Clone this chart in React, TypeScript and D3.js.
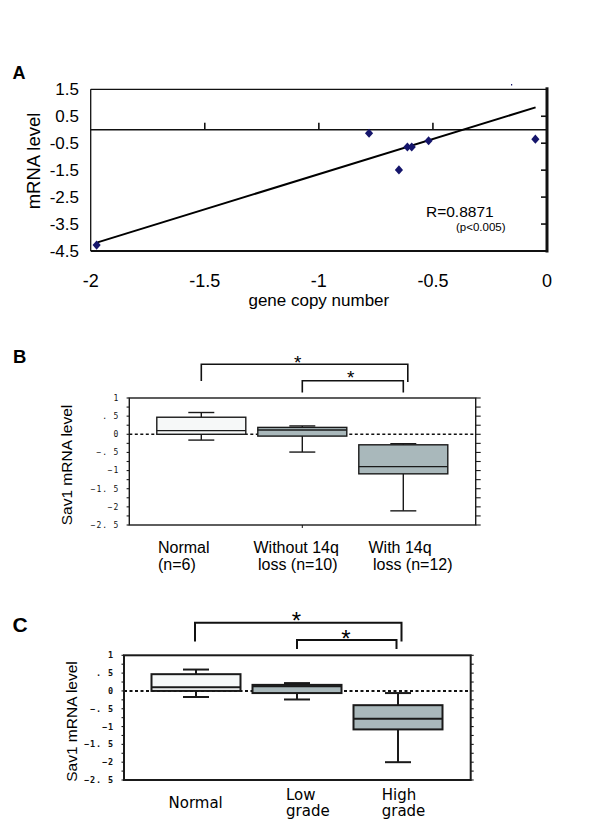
import React from "react";
import * as d3 from "d3";

// ---------- Panel A data ----------
const aCopyNumber = [-1.974, -0.78, -0.649, -0.612, -0.593, -0.519, -0.051];
const aMrna = [-4.28, -0.13, -1.49, -0.64, -0.64, -0.41, -0.35];
const aFitX = [-1.97, -0.05];
const aFitY = [-4.18, 0.83];
const aYTicks = [1.5, 0.5, -0.5, -1.5, -2.5, -3.5, -4.5];
const aXTicks = [-2, -1.5, -1, -0.5, 0];
const aZeroTicks = [-1.5, -1, -0.5];

// ---------- Panel B data ----------
const bGroups = ["Normal", "Without 14q loss", "With 14q loss"];
const bLabels = [["Normal", "(n=6)"], ["Without 14q", " loss (n=10)"], ["With 14q", " loss (n=12)"]];
const bQ1 = [0.0, -0.05, -1.09];
const bQ3 = [0.47, 0.19, -0.29];
const bMed = [0.1, 0.12, -0.89];
const bMin = [-0.16, -0.49, -2.11];
const bMax = [0.6, 0.23, -0.26];

// ---------- Panel C data ----------
const cGroups = ["Normal", "Low grade", "High grade"];
const cLabels = [["Normal"], ["Low", "grade"], ["High", "grade"]];
const cQ1 = [0.0, -0.06, -1.08];
const cQ3 = [0.47, 0.17, -0.4];
const cMed = [0.1, 0.13, -0.78];
const cMin = [-0.17, -0.24, -2.0];
const cMax = [0.6, 0.22, -0.06];

const boxTickLabels = [1, 0.5, 0, -0.5, -1, -1.5, -2, -2.5];
const boxTickText = ["1", ". 5", "0", "\u2212. 5", "\u22121", "\u22121. 5", "\u22122", "\u22122. 5"];

const SANS = "'Liberation Sans', Arial, sans-serif";
const MONO = "'DejaVu Sans Mono', monospace";
const GRAY = "#a9b8bb";

const diamond = {
  draw(ctx: any, size: number) {
    const w = Math.sqrt(size) * 0.55;
    const h = Math.sqrt(size) * 0.62;
    ctx.moveTo(0, -h);
    ctx.lineTo(w, 0);
    ctx.lineTo(0, h);
    ctx.lineTo(-w, 0);
    ctx.closePath();
  },
};

function PanelA() {
  const x = d3.scaleLinear().domain([-2, 0]).range([90.7, 547]);
  const y = d3.scaleLinear().domain([1.5, -4.5]).range([89.3, 251]);
  const sym = d3.symbol().type(diamond as any).size(55)();
  const line = d3.line<number>().x((d) => x(aFitX[d])).y((d) => y(aFitY[d]));
  const l = x.range()[0], r = x.range()[1], t = y.range()[0], b = y.range()[1];
  return (
    <g fontFamily={SANS}>
      <text x={12.5} y={78.5} fontSize={18} fontWeight="bold">A</text>
      <line x1={l} x2={r} y1={t} y2={t} stroke="#111" strokeWidth={1.3} />
      <line x1={l} x2={l} y1={t} y2={b} stroke="#111" strokeWidth={1.3} />
      <line x1={l} x2={r} y1={b} y2={b} stroke="#111" strokeWidth={1.8} />
      <line x1={r} x2={r} y1={t - 2} y2={b + 1.5} stroke="#111" strokeWidth={3} />
      <line x1={l} x2={r} y1={y(0)} y2={y(0)} stroke="#111" strokeWidth={1.6} />
      {aZeroTicks.map((v) => (
        <line key={v} x1={x(v)} x2={x(v)} y1={y(0)} y2={y(0) - 7} stroke="#111" strokeWidth={1.6} />
      ))}
      {aYTicks.slice(1, -1).map((v) => (
        <line key={v} x1={r} x2={r - 6} y1={y(v)} y2={y(v)} stroke="#111" strokeWidth={1.6} />
      ))}
      {aYTicks.map((v) => (
        <text key={v} x={79} y={y(v)} dy="0.36em" textAnchor="end" fontSize={17}>
          {String(v)}
        </text>
      ))}
      {aXTicks.map((v) => (
        <text key={v} x={x(v)} y={281} dy="0.36em" textAnchor="middle" fontSize={18}>
          {String(v)}
        </text>
      ))}
      <text x={(l + r) / 2} y={306} textAnchor="middle" fontSize={17}>gene copy number</text>
      <text transform={`translate(33,161) rotate(-90)`} textAnchor="middle" dy="0.36em" fontSize={18.5}>
        mRNA level
      </text>
      <path d={line([0, 1]) || ""} fill="none" stroke="#000" strokeWidth={2} />
      {aCopyNumber.map((v, i) => (
        <path key={i} d={sym || ""} transform={`translate(${x(v)},${y(aMrna[i])})`} fill="#15156b" />
      ))}
      <rect x={511} y={84} width={1.2} height={1.5} fill="#15156b" />
      <text x={426} y={216.5} fontSize={15.5}>R=0.8871</text>
      <text x={456} y={231} fontSize={11.5}>(p&lt;0.005)</text>
    </g>
  );
}

type BoxProps = {
  top: number;
  bottom: number;
  left: number;
  right: number;
  groups: string[];
  q1: number[];
  q3: number[];
  med: number[];
  mn: number[];
  mx: number[];
  sw: number;
  bold: boolean;
  leftTick: number;
  rightTick: number;
};

function BoxPlot(p: BoxProps) {
  const x = d3.scalePoint<string>().domain(p.groups).range([p.left + 72, p.left + 274]);
  const y = d3.scaleLinear().domain([1, -2.5]).range([p.top, p.bottom]);
  const minor = d3.range(1, -2.51, -0.25);
  const stroke = "#1a1a1a";
  const hw = 44.5;
  const cw = 13;
  return (
    <g>
      {minor.map((v) => (
        <g key={v}>
          <line x1={p.left - p.leftTick} x2={p.left} y1={y(v)} y2={y(v)} stroke={stroke} strokeWidth={1.1} />
          <line x1={p.right} x2={p.right + p.rightTick} y1={y(v)} y2={y(v)} stroke={stroke} strokeWidth={1.1} />
        </g>
      ))}
      {boxTickLabels.map((v, i) => (
        <text
          key={v}
          x={p.left - 10}
          y={y(v)}
          dy="0.35em"
          textAnchor="end"
          fontFamily={MONO}
          fontSize={p.bold ? 8.5 : 8}
          fontWeight={p.bold ? "bold" : "normal"}
          letterSpacing={0.9}
          fill="#111"
        >
          {boxTickText[i]}
        </text>
      ))}
      <line
        x1={p.left}
        x2={p.right}
        y1={y(0)}
        y2={y(0)}
        stroke="#111"
        strokeWidth={p.sw}
        strokeDasharray="3,2.5"
      />
      {p.groups.map((g, i) => {
        const cx = x(g) as number;
        return (
          <g key={g} stroke={stroke} strokeWidth={p.sw}>
            <line x1={cx} x2={cx} y1={y(p.q3[i])} y2={y(p.mx[i])} />
            <line x1={cx} x2={cx} y1={y(p.q1[i])} y2={y(p.mn[i])} />
            <line x1={cx - cw} x2={cx + cw} y1={y(p.mx[i])} y2={y(p.mx[i])} />
            <line x1={cx - cw} x2={cx + cw} y1={y(p.mn[i])} y2={y(p.mn[i])} />
            <rect
              x={cx - hw}
              width={2 * hw}
              y={y(p.q3[i])}
              height={y(p.q1[i]) - y(p.q3[i])}
              fill={i === 0 ? "#f6f8f8" : GRAY}
            />
            <line x1={cx - hw} x2={cx + hw} y1={y(p.med[i])} y2={y(p.med[i])} />
          </g>
        );
      })}
      <rect
        x={p.left}
        y={p.top}
        width={p.right - p.left}
        height={p.bottom - p.top}
        fill="none"
        stroke={stroke}
        strokeWidth={p.sw}
      />
    </g>
  );
}

function Bracket({ x1, x2, yTop, y1b, y2b, sw }: any) {
  return (
    <path d={`M${x1},${y1b}V${yTop}H${x2}V${y2b}`} fill="none" stroke="#111" strokeWidth={sw} />
  );
}

function PanelB() {
  const left = 129.3, right = 475.7;
  const x = d3.scalePoint<string>().domain(bGroups).range([left + 72, left + 274]);
  const c0 = x(bGroups[0]) as number, c1 = x(bGroups[1]) as number, c2 = x(bGroups[2]) as number;
  const starts = [158, 253.5, 368.5];
  return (
    <g fontFamily={SANS}>
      <text x={13} y={362.5} fontSize={18.5} fontWeight="bold">B</text>
      <Bracket x1={c0} x2={c2 + 4.5} yTop={364.3} y1b={381} y2b={382} sw={1.6} />
      <Bracket x1={c1} x2={c2} yTop={380.7} y1b={392.5} y2b={392.5} sw={1.6} />
      <text x={(c0 + c2) / 2 - 4.5} y={368.5} textAnchor="middle" fontSize={19}>*</text>
      <text x={(c1 + c2) / 2 - 2} y={383.5} textAnchor="middle" fontSize={19}>*</text>
      <BoxPlot
        top={398}
        bottom={525}
        left={left}
        right={right}
        groups={bGroups}
        q1={bQ1}
        q3={bQ3}
        med={bMed}
        mn={bMin}
        mx={bMax}
        sw={1.4}
        bold={false}
        leftTick={2.7}
        rightTick={5}
      />
      <line x1={c1} x2={c1} y1={525} y2={528} stroke="#111" strokeWidth={1} />
      <text transform="translate(66,465) rotate(-90)" textAnchor="middle" dy="0.36em" fontSize={15.5}>
        Sav1 mRNA level
      </text>
      {bLabels.map((lines, i) => (
        <text key={i} fontSize={16} style={{ whiteSpace: "pre" }}>
          {lines.map((s, j) => (
            <tspan key={j} x={starts[i]} y={552.5 + j * 17}>
              {s}
            </tspan>
          ))}
        </text>
      ))}
    </g>
  );
}

function PanelC() {
  const left = 124, right = 470.7;
  const x = d3.scalePoint<string>().domain(cGroups).range([left + 72, left + 274]);
  const c0 = x(cGroups[0]) as number, c1 = x(cGroups[1]) as number, c2 = x(cGroups[2]) as number;
  const starts = [168.5, 286, 381.7];
  return (
    <g fontFamily={SANS}>
      <text x={12.5} y={631.5} fontSize={21} fontWeight="bold">C</text>
      <Bracket x1={c0 - 1} x2={c2 + 3.5} yTop={622.7} y1b={641.5} y2b={641.5} sw={2} />
      <Bracket x1={c1} x2={c2 - 1.5} yTop={640} y1b={649} y2b={649} sw={2} />
      <text x={(c0 + c2) / 2 - 0.5} y={628.5} textAnchor="middle" fontSize={24}>*</text>
      <text x={(c1 + c2) / 2 - 1.5} y={646.5} textAnchor="middle" fontSize={24}>*</text>
      <BoxPlot
        top={655.3}
        bottom={780}
        left={left}
        right={right}
        groups={cGroups}
        q1={cQ1}
        q3={cQ3}
        med={cMed}
        mn={cMin}
        mx={cMax}
        sw={2}
        bold={true}
        leftTick={2.5}
        rightTick={3}
      />
      <text transform="translate(71,721.5) rotate(-90)" textAnchor="middle" dy="0.36em" fontSize={15.5}>
        Sav1 mRNA level
      </text>
      {cLabels.map((lines, i) => (
        <text key={i} fontFamily="'DejaVu Sans', Verdana, sans-serif" fontSize={15}>
          {lines.map((s, j) => (
            <tspan key={j} x={starts[i]} y={(lines.length === 1 ? 807.5 : 799.5) + j * 16.7}>
              {s}
            </tspan>
          ))}
        </text>
      ))}
    </g>
  );
}

export default function App() {
  return (
    <svg
      width={600}
      height={821}
      viewBox="0 0 600 821"
      style={{ position: "absolute", left: 0, top: 0, background: "#fff", display: "block" }}
    >
      <rect width={600} height={821} fill="#fff" />
      <PanelA />
      <PanelB />
      <PanelC />
    </svg>
  );
}
